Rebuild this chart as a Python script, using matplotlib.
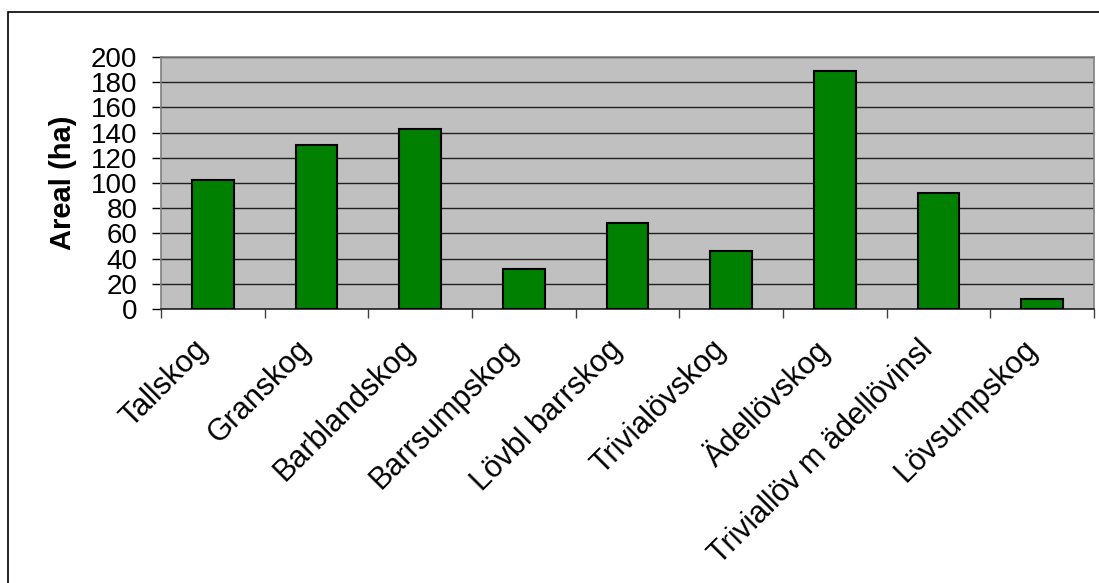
import numpy as np
import matplotlib.pyplot as plt
import matplotlib.transforms as mtransforms
from matplotlib.patches import Rectangle

plt.rcParams["font.family"] = ["Liberation Sans", "DejaVu Sans"]

CATEGORIES = ["Tallskog", "Granskog", "Barblandskog", "Barrsumpskog", "Lövbl barrskog",
              "Trivialövskog", "Ädellövskog", "Triviallöv m ädellövinsl", "Lövsumpskog"]
AREAL = [102, 130, 143, 32, 68, 46, 189, 92, 8]
YTICKS = list(range(0, 201, 20))

W, H = 1099, 583
fig = plt.figure(figsize=(W / 100, H / 100), dpi=100)
# outer chart border (only top/left visible, rest cropped)
fig.patches.append(Rectangle((8 / W, -0.1), 1.2, 1.1 - 12 / H, transform=fig.transFigure,
                             fill=False, edgecolor="black", lw=1.2))

ax = fig.add_axes([161 / W, 1 - 309 / H, (1094 - 161) / W, (309 - 57) / H])
ax.set_facecolor("#c0c0c0")
x = np.arange(len(CATEGORIES))
ax.bar(x, AREAL, width=0.4, color="#008000", edgecolor="black", lw=1.5, zorder=3)

ax.set_xlim(-0.5, len(CATEGORIES) - 0.5)
ax.set_ylim(0, 200)
ax.set_yticks(YTICKS)
ax.yaxis.grid(True, color="#202020", lw=1, zorder=1)
ax.set_axisbelow(True)
for s in ("top", "right", "left"):
    ax.spines[s].set_color("#808080")
ax.spines["bottom"].set_color("#202020")
for s in ax.spines.values():
    s.set_linewidth(1.2)

ax.tick_params(axis="y", direction="out", length=6.5, width=1, pad=10.5, labelsize=20)
ax.set_xticks(np.arange(-0.5, len(CATEGORIES), 1.0))
ax.set_xticklabels([])
ax.tick_params(axis="x", which="major", direction="out", length=6.5, width=1, color="#404040")
ax.set_xticks(x, minor=True)
ax.set_xticklabels(CATEGORIES, minor=True, rotation=45, ha="right", va="center",
                   rotation_mode="anchor", fontsize=22)
ax.tick_params(axis="x", which="minor", length=0, pad=26)
shift = mtransforms.ScaledTranslation(-10 / 100, 0, fig.dpi_scale_trans)
for lab in ax.get_xticklabels(minor=True):
    lab.set_transform(lab.get_transform() + shift)
ax.set_ylabel("Areal (ha)", fontsize=21, fontweight="bold", labelpad=10)

fig.savefig("out.png", dpi=100)
